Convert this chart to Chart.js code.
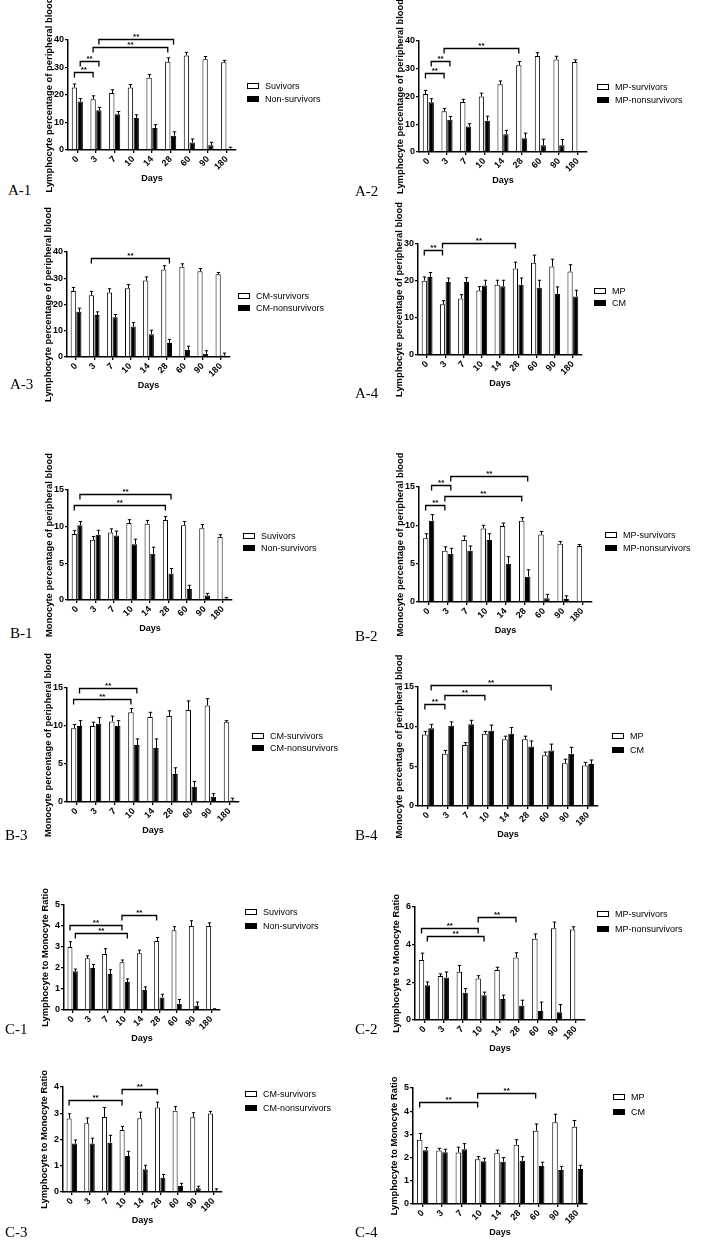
<!DOCTYPE html>
<html><head><meta charset="utf-8">
<script src="https://cdn.jsdelivr.net/npm/chart.js@4.4.1/dist/chart.umd.min.js"></script>
<style>
html,body{margin:0;padding:0;background:#fff;width:701px;height:1240px;overflow:hidden;position:relative}
.lab{position:absolute;font-family:'Liberation Serif','Times New Roman',serif;font-size:15px;color:#000;line-height:18px;white-space:nowrap}
</style></head><body>
<script>
// ---------- DATA ----------
const days = ['0','3','7','10','14','28','60','90','180'];
const lymTitle = 'Lymphocyte percentage of peripheral blood';
const monoTitle = 'Monocyte percentage of peripheral blood';
const ratioTitle = 'Lymphocyte to Monocyte Ratio';
const xTitle = 'Days';
const sigMark = '**';

// significance brackets: [fromDay, fromSeries, toDay, toSeries, level]
// A-1
const a1Names = ['Suvivors', 'Non-survivors'];
const a1Surv = [22.7,18.5,20.7,22.7,26.3,32.1,34.4,33.0,31.9];
const a1SurvErr = [1.3,1.2,1.2,1.1,1.1,1.4,1.1,1.0,0.7];
const a1Non = [17.6,14.5,13.0,11.6,8.0,5.2,2.7,1.7,0.5];
const a1NonErr = [1.1,1.0,1.0,1.2,1.2,1.4,1.3,1.1,0.5];
const a1Sig = [[0,0,1,0,28.2],[0,1,1,1,32.5],[1,0,5,0,37.6],[1,1,5,1,40.5]];
const a1Axis = [0,40,10];
// A-2
const a2Names = ['MP-survivors', 'MP-nonsurvivors'];
const a2Surv = [20.9,14.7,18.0,20.0,24.4,31.3,34.6,33.3,32.4];
const a2SurvErr = [1.3,1.0,1.0,1.2,1.2,1.3,1.2,1.2,0.8];
const a2Non = [17.9,11.6,9.2,11.3,6.4,5.0,2.4,2.4,0];
const a2NonErr = [1.3,1.2,1.0,1.6,1.4,1.8,2.2,2.1,0];
const a2Sig = [[0,0,1,0,28.3],[0,1,1,1,32.7],[1,0,5,0,37.3]];
const a2Axis = [0,40,10];
// A-3
const a3Names = ['CM-survivors', 'CM-nonsurvivors'];
const a3Surv = [25.1,23.5,24.6,26.2,29.1,33.3,34.4,32.7,31.5];
const a3SurvErr = [1.4,1.5,1.4,1.4,1.4,1.5,1.1,1.0,0.7];
const a3Non = [17.2,16.0,15.1,11.6,8.7,5.3,2.8,1.2,0.6];
const a3NonErr = [1.4,1.2,1.1,1.5,1.5,1.4,1.3,1.2,0.9];
const a3Sig = [[1,0,5,1,37.8]];
const a3Axis = [0,40,10];
// A-4
const a4Names = ['MP', 'CM'];
const a4MP = [20.1,13.7,15.3,17.4,19.0,23.4,24.9,23.9,22.6];
const a4MPErr = [1.0,1.0,1.0,1.1,1.2,1.7,2.1,2.0,1.8];
const a4CM = [21.1,19.7,19.7,18.8,18.6,19.0,18.2,16.5,15.8];
const a4CMErr = [1.2,1.1,1.2,1.4,1.6,1.8,2.0,1.9,1.7];
const a4Sig = [[0,0,1,0,28.5],[1,0,5,0,30.4]];
const a4Axis = [0,30,10];
// B-1
const b1Names = ['Suvivors', 'Non-survivors'];
const b1Surv = [9.0,8.2,9.2,10.5,10.4,10.9,10.2,9.8,8.6];
const b1SurvErr = [0.45,0.45,0.5,0.45,0.45,0.5,0.5,0.5,0.3];
const b1Non = [10.2,8.9,8.8,7.6,6.3,3.6,1.5,0.6,0.2];
const b1NonErr = [0.5,0.6,0.6,0.7,0.9,0.7,0.5,0.3,0.15];
const b1Sig = [[0,0,5,0,13.0],[0,1,5,1,14.5]];
const b1Axis = [0,15,5];
// B-2
const b2Names = ['MP-survivors', 'MP-nonsurvivors'];
const b2Surv = [8.3,6.7,8.1,9.6,9.9,10.6,8.8,7.6,7.3];
const b2SurvErr = [0.6,0.5,0.5,0.4,0.4,0.4,0.4,0.3,0.2];
const b2Non = [10.6,6.3,6.7,8.1,5.0,3.3,0.5,0.4,0];
const b2NonErr = [0.8,0.7,0.6,0.8,0.9,0.9,0.5,0.4,0];
const b2Sig = [[0,0,1,0,12.7],[0,1,1,1,15.3],[1,0,5,0,13.8],[1,1,5,1,16.4]];
const b2Axis = [0,15,5];
// B-3
const b3Names = ['CM-survivors', 'CM-nonsurvivors'];
const b3Surv = [9.7,10.0,10.6,11.8,11.2,11.3,12.1,12.7,10.5];
const b3SurvErr = [0.5,0.5,0.7,0.5,0.6,0.7,1.2,0.9,0.2];
const b3Non = [10.0,10.3,10.0,7.5,7.1,3.7,2.0,0.7,0.2];
const b3NonErr = [0.7,0.8,0.7,0.8,1.2,0.8,0.7,0.4,0.3];
const b3Sig = [[0,0,3,0,13.6],[0,1,3,1,15.0]];
const b3Axis = [0,15,5];
// B-4
const b4Names = ['MP', 'CM'];
const b4MP = [9.0,6.6,7.7,9.1,8.4,8.4,6.4,5.4,5.1];
const b4MPErr = [0.4,0.4,0.3,0.3,0.4,0.4,0.4,0.5,0.4];
const b4CM = [9.8,10.1,10.3,9.5,9.1,7.5,7.0,6.6,5.3];
const b4CMErr = [0.5,0.5,0.5,0.7,0.8,0.7,0.8,0.8,0.5];
const b4Sig = [[0,0,1,0,12.8],[1,0,3,0,14.0],[0,1,6,1,15.2]];
const b4Axis = [0,15,5];
// C-1
const c1Names = ['Suvivors', 'Non-survivors'];
const c1Surv = [3.0,2.46,2.67,2.27,2.7,3.28,3.8,4.0,4.0];
const c1SurvErr = [0.25,0.12,0.25,0.11,0.15,0.17,0.17,0.25,0.15];
const c1Non = [1.84,2.0,1.71,1.33,0.95,0.6,0.3,0.2,0.03];
const c1NonErr = [0.11,0.17,0.21,0.15,0.15,0.15,0.2,0.18,0.03];
const c1Sig = [[0,0,3,0,4.05],[0,1,3,1,3.65],[3,0,5,0,4.52]];
const c1Axis = [0,5,1];
// C-2
const c2Names = ['MP-survivors', 'MP-nonsurvivors'];
const c2Surv = [3.18,2.33,2.56,2.2,2.65,3.32,4.32,4.87,4.8];
const c2SurvErr = [0.37,0.12,0.34,0.15,0.15,0.25,0.25,0.33,0.15];
const c2Non = [1.84,2.26,1.45,1.32,1.11,0.76,0.48,0.41,0];
const c2NonErr = [0.18,0.29,0.22,0.16,0.21,0.29,0.47,0.41,0];
const c2Sig = [[0,0,3,0,4.9],[0,1,3,1,4.45],[3,0,5,0,5.47]];
const c2Axis = [0,6,2];
// C-3
const c3Names = ['CM-survivors', 'CM-nonsurvivors'];
const c3Surv = [2.8,2.62,2.86,2.36,2.81,3.22,3.1,2.85,2.99];
const c3SurvErr = [0.18,0.2,0.36,0.14,0.23,0.2,0.16,0.17,0.08];
const c3Non = [1.85,1.85,1.88,1.37,0.87,0.54,0.23,0.14,0.06];
const c3NonErr = [0.13,0.2,0.28,0.18,0.15,0.13,0.1,0.08,0.06];
const c3Sig = [[0,0,3,0,3.52],[3,0,5,0,3.94]];
const c3Axis = [0,4,1];
// C-4
const c4Names = ['MP', 'CM'];
const c4MP = [2.77,2.31,2.22,1.93,2.19,2.55,3.16,3.52,3.33];
const c4MPErr = [0.27,0.09,0.23,0.11,0.13,0.22,0.29,0.35,0.27];
const c4CM = [2.32,2.23,2.36,1.84,1.82,1.86,1.64,1.47,1.51];
const c4CMErr = [0.11,0.13,0.24,0.13,0.18,0.18,0.16,0.15,0.16];
const c4Sig = [[0,0,3,0,4.38],[3,0,6,0,4.78]];
const c4Axis = [0,5,1];

// ---------- LAYOUT (page px) ----------
const panels = [
  {id:'A-1', rect:[68,40,236,150],  legend:[247,86,99],    label:[8,190],   title:lymTitle,  names:a1Names, vals:[a1Surv,a1Non], errs:[a1SurvErr,a1NonErr], sig:a1Sig, axis:a1Axis},
  {id:'A-2', rect:[419,41,587,152], legend:[597,87,100],   label:[355,191], title:lymTitle,  names:a2Names, vals:[a2Surv,a2Non], errs:[a2SurvErr,a2NonErr], sig:a2Sig, axis:a2Axis},
  {id:'A-3', rect:[67,252,230,357], legend:[238,296,308],  label:[10,384],  title:lymTitle,  names:a3Names, vals:[a3Surv,a3Non], errs:[a3SurvErr,a3NonErr], sig:a3Sig, axis:a3Axis},
  {id:'A-4', rect:[418,244,582,355],legend:[594,291,303],  label:[355,393], title:lymTitle,  names:a4Names, vals:[a4MP,a4CM],     errs:[a4MPErr,a4CMErr],     sig:a4Sig, axis:a4Axis},
  {id:'B-1', rect:[68,490,232,600], legend:[243,536,548],  label:[10,633],  title:monoTitle, names:b1Names, vals:[b1Surv,b1Non], errs:[b1SurvErr,b1NonErr], sig:b1Sig, axis:b1Axis},
  {id:'B-2', rect:[419,487,592,602],legend:[605,535,548],  label:[355,636], title:monoTitle, names:b2Names, vals:[b2Surv,b2Non], errs:[b2SurvErr,b2NonErr], sig:b2Sig, axis:b2Axis},
  {id:'B-3', rect:[67,688,239,802], legend:[252,736,748],  label:[5,835],   title:monoTitle, names:b3Names, vals:[b3Surv,b3Non], errs:[b3SurvErr,b3NonErr], sig:b3Sig, axis:b3Axis},
  {id:'B-4', rect:[418,687,598,806],legend:[612,736,750],  label:[355,835], title:monoTitle, names:b4Names, vals:[b4MP,b4CM],     errs:[b4MPErr,b4CMErr],     sig:b4Sig, axis:b4Axis},
  {id:'C-1', rect:[64,905,220,1010],legend:[245,912,926],  label:[5,1029],  title:ratioTitle,names:c1Names, vals:[c1Surv,c1Non], errs:[c1SurvErr,c1NonErr], sig:c1Sig, axis:c1Axis},
  {id:'C-2', rect:[415,907,585,1020],legend:[597,914,929], label:[355,1029],title:ratioTitle,names:c2Names, vals:[c2Surv,c2Non], errs:[c2SurvErr,c2NonErr], sig:c2Sig, axis:c2Axis},
  {id:'C-3', rect:[63,1087,222,1192],legend:[245,1094,1108],label:[5,1232], title:ratioTitle,names:c3Names, vals:[c3Surv,c3Non], errs:[c3SurvErr,c3NonErr], sig:c3Sig, axis:c3Axis},
  {id:'C-4', rect:[413,1088,587,1204],legend:[613,1097,1112],label:[355,1232],title:ratioTitle,names:c4Names, vals:[c4MP,c4CM],   errs:[c4MPErr,c4CMErr],     sig:c4Sig, axis:c4Axis}
];

const FONT = "'Liberation Sans', Arial, Helvetica, sans-serif";
Chart.defaults.font.family = FONT;
Chart.defaults.color = '#000';
const Y_W = 24, PAD_T = 60, X_H = 34, PAD_B = 22, PAD_R = 135;
const fills = ['#ffffff', '#000000'];

function makePanel(p) {
  const [l, t, r, b] = p.rect;
  const cl = l - Y_W, ct = t - PAD_T;
  const cw = (r - l) + Y_W + PAD_R, ch = PAD_T + (b - t) + X_H + PAD_B;
  const c = document.createElement('canvas');
  c.width = cw; c.height = ch;
  Object.assign(c.style, {position:'absolute', left:cl+'px', top:ct+'px', width:cw+'px', height:ch+'px'});
  document.body.appendChild(c);
  const lab = document.createElement('div');
  lab.className = 'lab'; lab.textContent = p.id;
  lab.style.left = p.label[0] + 'px'; lab.style.top = (p.label[1] - 9) + 'px';
  document.body.appendChild(lab);

  const errorBars = {
    id: 'errorBars',
    afterDatasetsDraw(chart) {
      const ctx = chart.ctx, ys = chart.scales.y;
      ctx.save();
      ctx.strokeStyle = '#000'; ctx.lineWidth = 1;
      p.errs.forEach((errs, di) => {
        const meta = chart.getDatasetMeta(di);
        meta.data.forEach((bar, i) => {
          const v = p.vals[di][i], e = errs[i];
          if (!e) return;
          const y0 = ys.getPixelForValue(v), y1 = ys.getPixelForValue(v + e);
          const x = Math.round(bar.x) + 0.5, hw = Math.max(1.5, bar.width * 0.32);
          ctx.beginPath();
          ctx.moveTo(x, y0); ctx.lineTo(x, y1);
          ctx.moveTo(x - hw, y1); ctx.lineTo(x + hw, y1);
          ctx.stroke();
        });
      });
      ctx.restore();
    }
  };
  const brackets = {
    id: 'sigBrackets',
    afterDatasetsDraw(chart) {
      const ctx = chart.ctx, ys = chart.scales.y;
      ctx.save();
      ctx.strokeStyle = '#000'; ctx.fillStyle = '#000'; ctx.lineWidth = 1.3;
      ctx.font = 'bold 8px ' + FONT; ctx.textAlign = 'center'; ctx.textBaseline = 'alphabetic';
      p.sig.forEach(([d1, s1, d2, s2, lev]) => {
        const x1 = chart.getDatasetMeta(s1).data[d1].x;
        const x2 = chart.getDatasetMeta(s2).data[d2].x;
        const py = Math.round(ys.getPixelForValue(lev)) + 0.5;
        ctx.beginPath();
        ctx.moveTo(x1, py + 5); ctx.lineTo(x1, py); ctx.lineTo(x2, py); ctx.lineTo(x2, py + 5);
        ctx.stroke();
        ctx.fillText(sigMark, (x1 + x2) / 2, py - 1);
      });
      ctx.restore();
    }
  };
  const legendDraw = {
    id: 'sideLegend',
    afterDraw(chart) {
      const ctx = chart.ctx;
      const lx = p.legend[0] - cl;
      ctx.save();
      ctx.font = '9px ' + FONT; ctx.textBaseline = 'middle'; ctx.textAlign = 'left';
      chart.data.datasets.forEach((ds, i) => {
        const yy = Math.round(p.legend[1 + i] - ct);
        ctx.fillStyle = fills[i];
        ctx.fillRect(lx, yy - 3, 12, 6);
        ctx.strokeStyle = '#000'; ctx.lineWidth = 1;
        ctx.strokeRect(lx + 0.5, yy - 2.5, 11, 5);
        ctx.fillStyle = '#000';
        ctx.fillText(ds.label, lx + 18, yy + 0.5);
      });
      ctx.restore();
    }
  };

  new Chart(c, {
    type: 'bar',
    data: {
      labels: days,
      datasets: p.vals.map((v, i) => ({
        label: p.names[i], data: v,
        backgroundColor: fills[i], borderColor: '#000', borderWidth: 1,
        categoryPercentage: 0.62, barPercentage: 0.92
      }))
    },
    options: {
      responsive: false, animation: false, devicePixelRatio: 1,
      layout: {padding: {top: PAD_T, right: PAD_R, bottom: PAD_B, left: 0}},
      plugins: {legend: {display: false}, tooltip: {enabled: false}},
      scales: {
        x: {
          ticks: {autoSkip: false, minRotation: 45, maxRotation: 45, font: {size: 9, weight: 'bold'}, color: '#000', padding: 1},
          grid: {offset: false, drawOnChartArea: false, drawTicks: true, tickLength: 3, color: '#000', lineWidth: 1.3},
          border: {display: true, color: '#000', width: 1.5},
          title: {display: true, text: xTitle, font: {size: 9, weight: 'bold'}, color: '#000', padding: 0},
          afterFit(s) { s.height = X_H; }
        },
        y: {
          min: p.axis[0], max: p.axis[1],
          ticks: {stepSize: p.axis[2], font: {size: 9, weight: 'bold'}, color: '#000', padding: 1},
          grid: {drawOnChartArea: false, drawTicks: true, tickLength: 3, color: '#000', lineWidth: 1.3},
          border: {display: true, color: '#000', width: 1.5},
          title: {display: true, text: p.title, font: {size: 9.4, weight: 'bold'}, color: '#000', padding: 0},
          afterFit(s) { s.width = Y_W; }
        }
      }
    },
    plugins: [errorBars, brackets, legendDraw]
  });
}
panels.forEach(makePanel);
</script>
</body></html>
